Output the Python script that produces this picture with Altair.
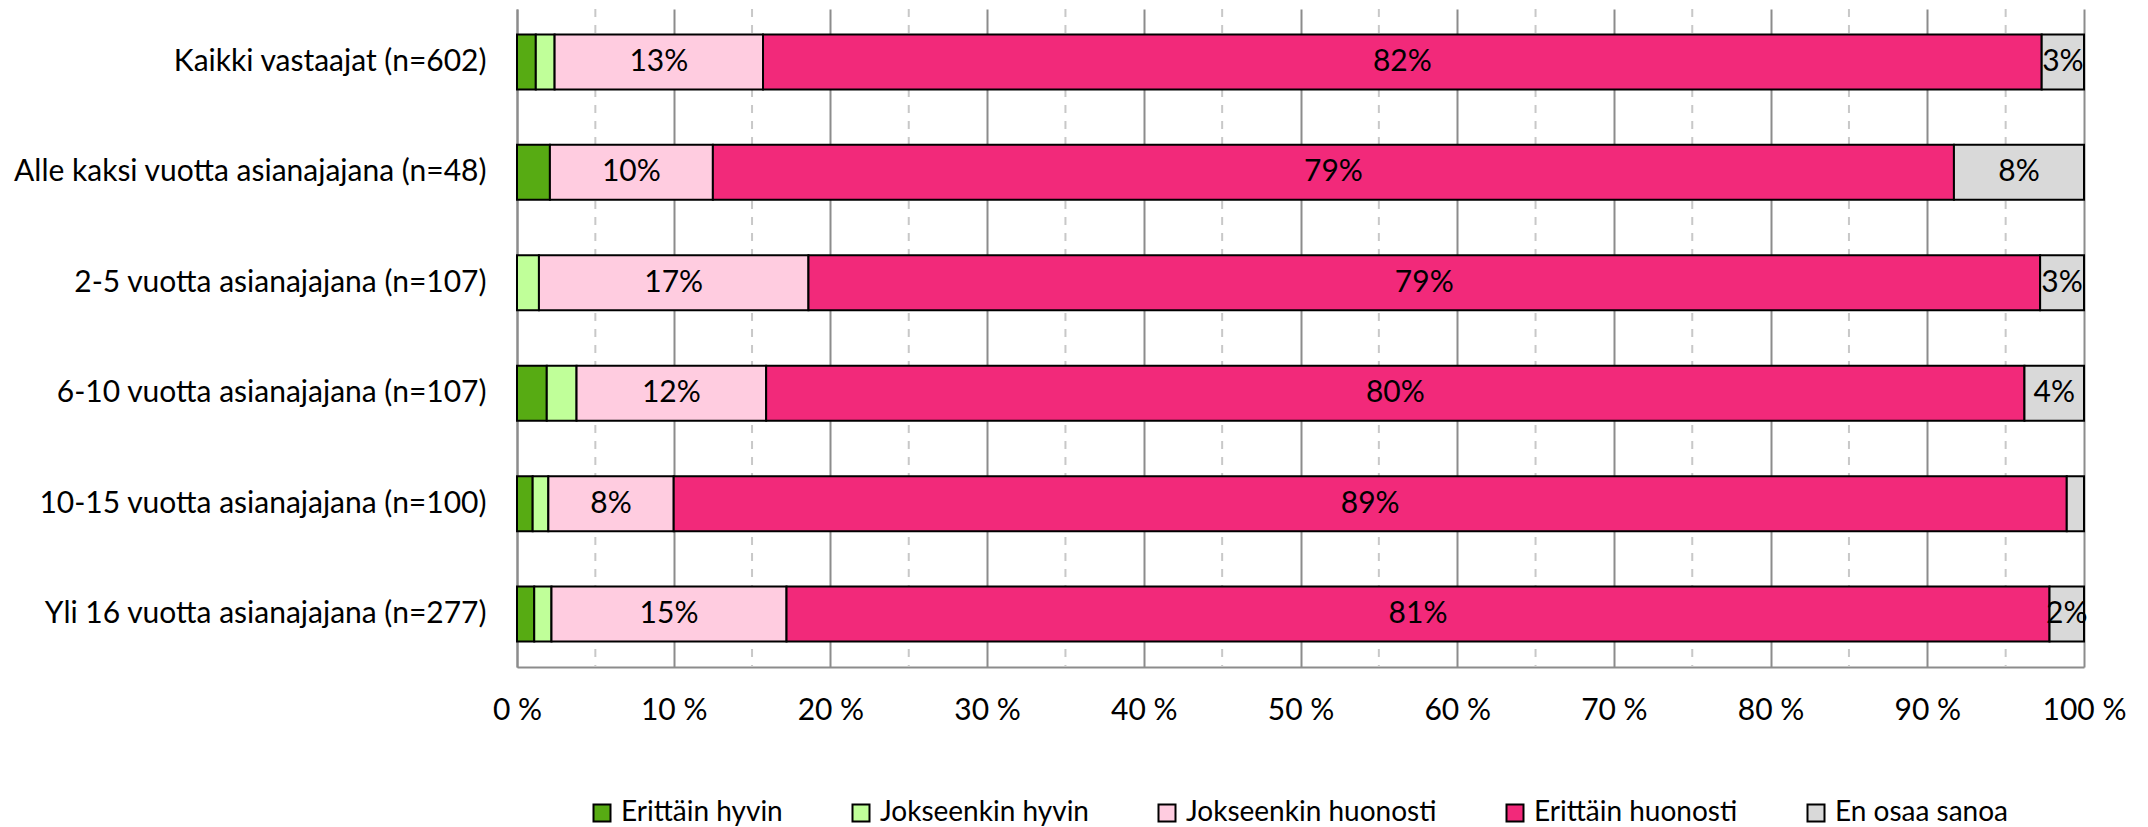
import altair as alt
import pandas as pd

categories = [
    "Kaikki vastaajat (n=602)",
    "Alle kaksi vuotta asianajajana (n=48)",
    "2-5 vuotta asianajajana (n=107)",
    "6-10 vuotta asianajajana (n=107)",
    "10-15 vuotta asianajajana (n=100)",
    "Yli 16 vuotta asianajajana (n=277)",
]
series = ["Erittäin hyvin", "Jokseenkin hyvin", "Jokseenkin huonosti", "Erittäin huonosti", "En osaa sanoa"]
erittain_hyvin = [1.2, 2.1, 0.0, 1.9, 1.0, 1.1]
jokseenkin_hyvin = [1.2, 0.0, 1.4, 1.9, 1.0, 1.1]
jokseenkin_huonosti = [13.3, 10.4, 17.2, 12.1, 8.0, 15.0]
erittain_huonosti = [81.6, 79.2, 78.6, 80.3, 88.9, 80.6]
en_osaa_sanoa = [2.7, 8.3, 2.8, 3.8, 1.1, 2.2]
colors = ["#57AB13", "#C0FF99", "#FFCCE0", "#F2297A", "#D9D9D9"]
labelled_series = ["Jokseenkin huonosti", "Erittäin huonosti", "En osaa sanoa"]
major_ticks = [0, 10, 20, 30, 40, 50, 60, 70, 80, 90, 100]
minor_ticks = [5, 15, 25, 35, 45, 55, 65, 75, 85, 95]

FONT = "Lato"
FS = 30

values_by_series = [erittain_hyvin, jokseenkin_hyvin, jokseenkin_huonosti, erittain_huonosti, en_osaa_sanoa]
rows = []
for i, cat in enumerate(categories):
    start = 0.0
    for s, vals in zip(series, values_by_series):
        v = vals[i]
        end = start + v
        if v > 0:
            label = f"{int(v + 0.5)}%" if (s in labelled_series and v >= 1.5) else ""
            rows.append({"cat": cat, "series": s, "order": series.index(s),
                         "start": start, "end": end, "mid": (start + end) / 2,
                         "value": v, "label": label})
        start = end
df = pd.DataFrame(rows)
minor_df = pd.DataFrame({"v": minor_ticks})

xscale = alt.Scale(domain=[0, 100], nice=False, zero=True)
yscale = alt.Scale(domain=categories, paddingInner=0.502, paddingOuter=0.23)

minor = alt.Chart(minor_df).mark_rule(color="#C8C8C8", strokeWidth=2, strokeDash=[8, 8]).encode(
    x=alt.X("v:Q", scale=xscale)
)

bars = alt.Chart(df).mark_bar(stroke="black", strokeWidth=2).encode(
    x=alt.X("start:Q", scale=xscale, title=None,
            axis=alt.Axis(values=major_ticks, labelExpr="datum.value + ' %'",
                          grid=True, gridColor="#8C8C8C", gridWidth=2,
                          ticks=False, domainColor="#8C8C8C", domainWidth=2,
                          labelFont=FONT, labelFontSize=FS, labelColor="black",
                          labelFlush=False, labelPadding=28)),
    x2="end:Q",
    y=alt.Y("cat:N", scale=yscale, sort=categories, title=None,
            axis=alt.Axis(ticks=False, domainColor="#8C8C8C", domainWidth=2,
                          labelFont=FONT, labelFontSize=FS, labelColor="black",
                          labelPadding=31, labelLimit=0, minExtent=509, maxExtent=509)),
    color=alt.Color("series:N", scale=alt.Scale(domain=series, range=colors), sort=series,
                    legend=alt.Legend(title=None, orient="none", direction="horizontal",
                                      columns=5, legendX=71, legendY=790,
                                      symbolType="square", symbolSize=289,
                                      symbolStrokeColor="black", symbolStrokeWidth=2,
                                      labelFont=FONT, labelFontSize=28, labelColor="black",
                                      labelLimit=0, columnPadding=64, labelOffset=5)),
    order=alt.Order("order:Q"),
)

text = alt.Chart(df).transform_filter("datum.label != ''").mark_text(
    font=FONT, fontSize=FS, color="black", align="center", baseline="middle"
).encode(
    x=alt.X("mid:Q", scale=xscale),
    y=alt.Y("cat:N", scale=yscale, sort=categories),
    text="label:N",
)

chart = alt.layer(minor, bars, text).properties(
    width=1567, height=658, padding=0
).configure_view(stroke=None)

chart.save("out.html", embed_options={"renderer": "svg", "actions": False})
